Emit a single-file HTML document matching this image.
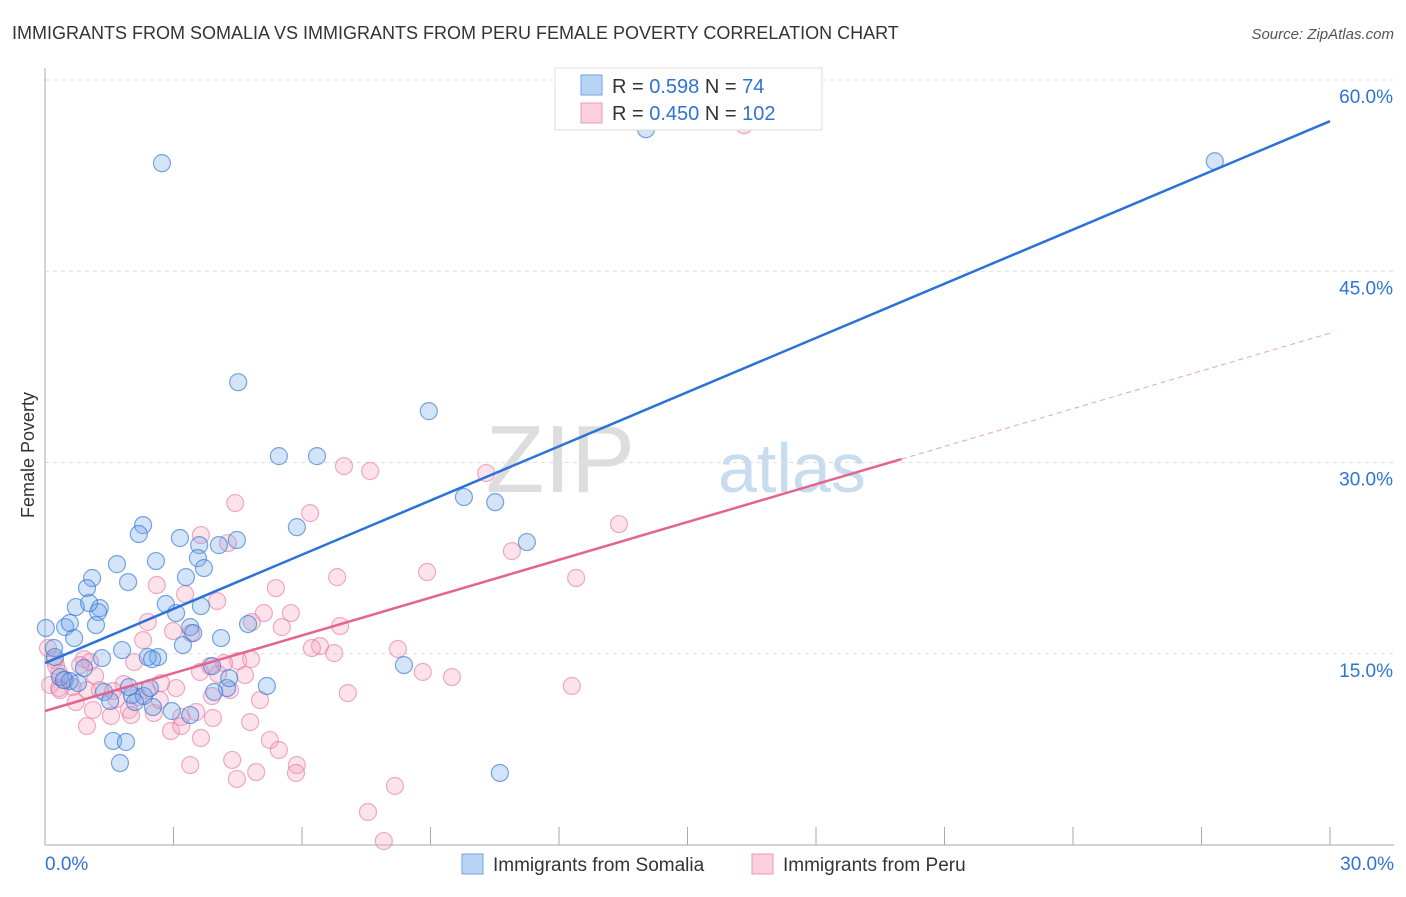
<!DOCTYPE html>
<html><head><meta charset="utf-8"><style>
body{margin:0;background:#fff;font-family:"Liberation Sans",sans-serif;}
svg text{font-family:"Liberation Sans",sans-serif;}
</style></head><body>
<svg id="c" width="1406" height="892">
<text x="12" y="39" font-size="18" fill="#333">IMMIGRANTS FROM SOMALIA VS IMMIGRANTS FROM PERU FEMALE POVERTY CORRELATION CHART</text>
<text x="1394" y="39" font-size="15" fill="#555" font-style="italic" text-anchor="end">Source: ZipAtlas.com</text>
<text transform="translate(34,455) rotate(-90)" font-size="18" fill="#333" text-anchor="middle">Female Poverty</text>
<g><text x="635" y="492" font-size="96" fill="#ddd" font-family="Liberation Serif" text-anchor="end">ZIP</text><text x="718" y="492" font-size="70" fill="#c8dcf0">atlas</text></g>
<g id="grid"></g><g id="marks"></g><g id="lines"></g>
<g>
<rect x="555" y="68" width="267" height="62" fill="#fff" stroke="#ddd"/>
<rect x="581" y="75" width="21" height="20" fill="#b8d4f4" stroke="#6fa3e0"/>
<rect x="581" y="103" width="21" height="20" fill="#fbcfdc" stroke="#ec9ab5"/>
<text x="612" y="93" font-size="20" fill="#333">R = <tspan fill="#2f73d6">0.598</tspan>   N = <tspan fill="#2f73d6">  74</tspan></text>
<text x="612" y="120" font-size="20" fill="#333">R = <tspan fill="#2f73d6">0.450</tspan>   N = <tspan fill="#2f73d6">102</tspan></text>
</g>
<g>
<rect x="462" y="854" width="21" height="20" fill="#b8d4f4" stroke="#6fa3e0"/>
<text x="493" y="871" font-size="19" fill="#333">Immigrants from Somalia</text>
<rect x="752" y="854" width="21" height="20" fill="#fbcfdc" stroke="#ec9ab5"/>
<text x="783" y="871" font-size="19" fill="#333">Immigrants from Peru</text>
</g>
</svg>
<script>
const yTicks=[15,30,45,60];
const yTickLabels=["15.0%","30.0%","45.0%","60.0%"];
const xTickLabels=["0.0%","30.0%"];
const somaliaX=[2.73,14.03,27.31,4.51,8.96,5.46,6.35,9.78,10.51,11.25,5.88,2.29,2.19,3.15,4.48,4.06,3.60,2.59,1.68,3.57,3.71,3.29,1.10,1.94,0.98,0.72,1.28,1.24,1.03,2.82,3.06,3.64,0.47,0.58,1.19,3.39,3.46,4.11,4.74,0.68,3.22,0.02,0.21,0.23,1.80,1.33,2.64,2.40,2.50,8.38,3.90,0.91,5.18,4.25,3.95,4.30,0.35,0.58,1.38,2.03,2.31,2.10,1.52,2.96,2.52,1.59,1.89,1.75,10.62,3.39,2.45,0.44,0.77,1.96];
const somaliaY=[53.48,56.14,53.63,36.30,34.03,30.50,30.50,27.29,26.89,23.76,24.93,25.09,24.39,24.08,23.92,23.52,23.52,22.27,22.03,22.50,21.72,21.01,20.94,20.62,20.15,18.66,18.58,18.27,18.98,18.90,18.19,18.74,17.09,17.41,17.25,17.09,16.62,16.23,17.33,16.23,15.68,17.02,15.45,14.74,15.29,14.66,14.74,14.74,14.58,14.11,14.03,13.88,12.47,12.31,12.00,13.09,13.17,12.86,12.00,11.76,11.68,11.21,11.29,10.51,10.82,8.16,8.08,6.43,5.65,10.19,12.31,12.94,12.70,12.39];
const peruX=[16.32,6.98,7.59,10.30,4.44,6.19,13.40,3.64,4.27,10.90,8.92,6.82,12.40,2.61,5.39,3.27,4.02,5.11,5.74,2.40,4.83,5.53,6.89,2.99,3.41,6.42,6.23,6.75,2.29,8.24,0.07,0.23,0.91,1.05,2.08,4.81,4.51,4.18,3.85,0.26,0.33,3.62,4.04,4.67,8.82,9.50,1.17,0.47,1.84,2.71,3.06,0.12,0.33,0.65,0.98,1.59,2.38,12.30,7.07,3.90,2.17,1.66,0.72,1.12,1.96,2.54,3.18,3.53,3.92,1.54,4.79,2.94,0.98,3.18,3.64,5.25,5.46,4.37,3.39,4.93,5.88,5.86,4.48,7.54,8.17,7.91,2.01,1.28,0.35,0.82,2.68,4.32,5.02];
const peruY=[56.46,29.72,29.33,29.17,26.82,26.03,25.17,24.31,23.68,23.05,21.41,21.01,20.94,20.39,20.15,19.68,19.13,18.19,18.19,17.49,17.49,17.09,17.17,16.78,16.62,15.60,15.45,15.05,16.07,15.37,15.45,14.51,14.58,14.35,14.35,14.58,14.43,14.27,14.03,14.03,13.49,13.57,13.41,13.33,13.57,13.17,13.25,12.94,12.62,12.70,12.31,12.55,12.31,12.39,12.15,12.08,12.15,12.47,11.92,11.68,11.60,11.45,11.21,10.59,10.59,10.35,10.04,10.43,9.96,10.12,9.64,8.94,9.33,9.33,8.39,8.23,7.45,6.67,6.27,5.72,6.27,5.65,5.18,2.59,4.63,0.31,10.19,12.15,12.15,14.11,11.37,12.15,11.37];
const somaliaFit=[14.27,1.4167];
const peruFit=[10.51,0.988];
const NS="http://www.w3.org/2000/svg";
const X0=45,X1=1330,Y0=845,Y60=80;
const sx=v=>X0+(v/30)*(X1-X0);
const sy=v=>Y0-(v/60)*(Y0-Y60);
function mk(t,a,p){const e=document.createElementNS(NS,t);for(const k in a)e.setAttribute(k,a[k]);p.appendChild(e);return e;}
const grid=document.getElementById('grid');
yTicks.forEach((t,i)=>{
  const l=mk('line',{x1:X0,x2:1394,y1:sy(t),y2:sy(t),stroke:'#ddd','stroke-dasharray':'4,4'},grid);
  
  
  const tx=mk('text',{x:1393,y:sy(t)+23,'font-size':19,fill:'#2f73d6','text-anchor':'end'},grid);
  tx.textContent=yTickLabels[i];
  
  
});
const ax=mk('line',{x1:X0,x2:X0,y1:68,y2:Y0,stroke:'#aaa'},grid);


const bx=mk('line',{x1:X0,x2:1394,y1:Y0,y2:Y0,stroke:'#aaa'},grid);


for(let i=1;i<=10;i++){const x=sx(i*3);const t=mk('line',{x1:x,x2:x,y1:Y0-18,y2:Y0,stroke:'#aaa'},grid);
  
  }
[[0,X0,'start'],[1,1394,'end']].forEach(([i,x,a])=>{const t=mk('text',{x:x,y:870,'font-size':19,fill:'#2f73d6','text-anchor':a},grid);t.textContent=xTickLabels[i];
  
  });
const marks=document.getElementById('marks');
function pts(xs,ys,fill,stroke,name){xs.forEach((x,i)=>{const c=mk('circle',{cx:sx(x),cy:sy(ys[i]),r:8.5,fill:fill,stroke:stroke,'stroke-width':1.2},marks);
  
  });}
pts(peruX,peruY,'rgba(244,160,190,0.3)','rgba(230,120,160,0.6)','point-peru');
pts(somaliaX,somaliaY,'rgba(110,165,235,0.3)','rgba(50,120,210,0.65)','point-somalia');
const lines=document.getElementById('lines');
const bl=mk('line',{x1:sx(0),y1:sy(somaliaFit[0]),x2:sx(30),y2:sy(somaliaFit[0]+somaliaFit[1]*30),stroke:'#2a72d8','stroke-width':2.5},lines);


const pl=mk('line',{x1:sx(0),y1:sy(peruFit[0]),x2:sx(20),y2:sy(peruFit[0]+peruFit[1]*20),stroke:'#e4648f','stroke-width':2.5},lines);


const pd=mk('line',{x1:sx(20),y1:sy(peruFit[0]+peruFit[1]*20),x2:sx(30),y2:sy(peruFit[0]+peruFit[1]*30),stroke:'#eba0b8','stroke-width':1,'stroke-dasharray':'5,4'},lines);


</script>
</body></html>
